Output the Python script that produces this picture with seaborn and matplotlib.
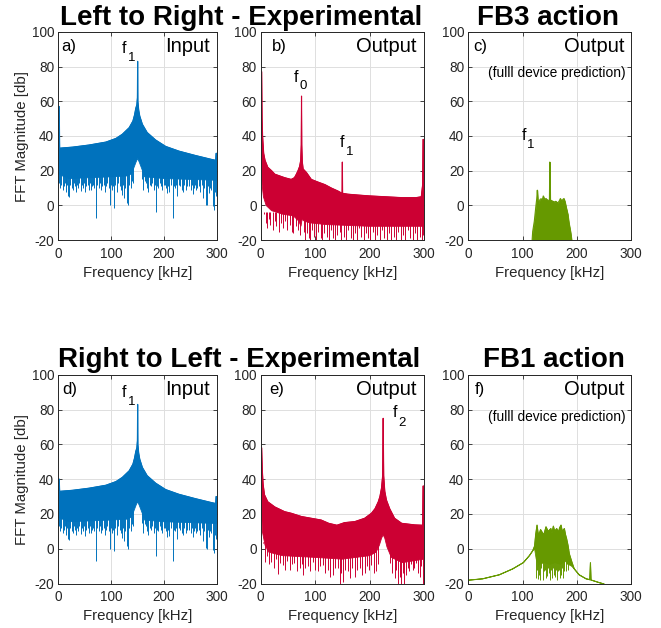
import matplotlib
matplotlib.use("Agg")
import matplotlib.pyplot as plt
import seaborn as sns

BLUE = "#0072BD"
RED = "#CC0033"
GREEN = "#669900"
INK = "#262626"

# ---------------- spectra (frequency in kHz, magnitude in dB) ----------------
# Input drive (panels a and d): upper edge of the dense FFT band
# (the first two entries carry the DC bin, set per panel below)
input_top_f = [0, 1.8, 2.6, 27, 58, 90, 109, 121, 134, 141, 144, 146.5, 148.5, 149.5, 150,
               150.5, 152, 154, 159, 168, 184, 203, 228, 259, 290, 297.5, 298.2, 300]
input_top_db = [33, 33, 33, 33.6, 34.8, 36.5, 38.6, 41, 44.8, 48.6, 52, 56, 58, 62, 83,
                60, 55, 51.5, 46.7, 42, 37.7, 34, 31.3, 28.8, 26.5, 26, 30, 30]
input_dc_lr = 57
input_dc_rl = 40
# lower edge of the band
input_low_f = [0, 20, 60, 100, 130, 137, 142, 147, 150, 153, 158, 163, 200, 250, 300]
input_low_db = [18, 15.5, 16, 16.5, 17, 18, 21, 25, 27, 25, 21, 16.5, 15.5, 15, 14.5]
# downward spikes below the band
input_dip_f = [2, 4, 6, 8, 10.5, 12, 14, 15.5, 17, 19, 21, 23, 25, 27, 29, 31, 33, 35, 37,
               39.5, 42, 44, 46, 48, 51, 53, 56, 58, 60, 62, 64, 66, 68, 71, 73, 76, 78, 81,
               83, 86, 88, 90, 92, 95, 97, 99, 101, 104, 106, 108, 111, 113, 116, 118, 121,
               123, 125, 127, 129, 132, 134, 137, 139, 141, 159, 161, 163, 166, 168, 170, 173,
               175, 177, 180, 182, 184, 187, 189, 192, 194, 196, 199, 201, 203, 205, 208, 210,
               213, 216, 218, 221, 223, 225, 228, 230, 233, 236, 238, 241, 244, 247, 250, 252,
               254, 256, 258, 261, 263, 266, 268, 271, 273, 276, 279, 281, 283, 285, 287, 289,
               292, 294, 296, 297.5]
input_dip_db = [13, 10, 12, 9, 11, 13, 8, 11, 12, 5.5, 5, 12, 10, 9, 13, 11, 8, 12, 10,
                13, 8.5, 12, 10, 13, 7.5, 11, 12, 9, 13, 9, 11, 12, 10, -7, 12, 10, 13, 9,
                11, 12, 8, 11, 13, 10, 0, 12, 9, 11, -1.5, 12, 8, 13, 11, 9, 6,
                12, 4.5, 10, 1.5, 0, 12, 10, 14, 13, 15, 9, 14, 13, 10, 8, 12,
                11, 13, 9, 12, -4, 11, 10, 13, 11, 9, 12, 12, 10, 7, 11, 7.5,
                12, -7, 11, 10, 12, 5.5, 12, 11, 9, 8, 12, 9, 11, 11, 9, 12,
                6.5, 10, 12, 9, 10, 11, 8, 12, 4.5, 10, 0.5, 0, 11, 7, 10, 9,
                -0.5, -2.5, 8, 5.5]

# Output, left to right (panel b)
out_lr_top_f = [0, 1.8, 2.6, 3.5, 5.5, 8, 13, 20, 26, 35, 44, 56, 62, 65.5, 68.5, 71.5, 73.5,
                74.5, 75, 75.5, 76.5, 78, 84, 93, 105, 118, 130, 142, 149.5, 150, 150.5, 160,
                179, 200, 230, 260, 285, 295, 297.5, 298.2, 300]
out_lr_top_db = [77, 77, 50, 40, 30, 26, 22, 20, 18, 17, 16, 15, 16, 18, 20, 22.5, 26,
                 35, 63, 35, 25, 21, 19, 15, 13.5, 12, 10, 8.3, 7, 25, 7, 6.5,
                 6, 5.5, 5, 4.5, 4.5, 5, 12, 38, 38]
out_lr_low_f = [0, 2.6, 5, 10, 20, 40, 60, 70, 74, 76, 80, 90, 120, 200, 300]
out_lr_low_db = [45, 12, 5, 0, -3, -5, -6, -9, -12, -8, -9, -10, -11, -12, -12]
out_lr_dip_f = [6, 9, 12, 15, 18, 22, 26, 29, 33, 37, 41, 45, 49, 53, 57, 60, 64, 68, 72, 79,
                82, 85, 88, 91, 95, 98, 102, 106, 110, 113, 117, 121, 125, 129, 133, 137, 141,
                145, 148, 153, 157, 161, 165, 169, 173, 177, 181, 185, 189, 193, 197, 201, 206,
                210, 214, 219, 223, 227, 232, 236, 240, 245, 249, 253, 258, 262, 266, 271, 275,
                279, 284, 288, 292, 296, 299]
out_lr_dip_db = [-5, -10, -13, -8, -11, -14, -9, -12, -15, -10, -13, -9, -14, -11, -15, -16,
                 -12, -14, -17, -15, -20, -16, -19, -20, -14, -18, -20, -15, -19, -20, -16,
                 -18, -20, -14, -19, -20, -17, -15, -20, -18, -20, -14, -19, -20, -16, -20,
                 -13, -18, -20, -16, -19, -20, -15, -20, -17, -20, -14, -19, -20, -16, -20,
                 -18, -20, -15, -20, -17, -20, -14, -19, -20, -16, -20, -18, -20, -17]

# Output, right to left (panel e)
out_rl_top_f = [0, 1.8, 3, 4.5, 7, 13, 26, 44, 56, 75, 93, 111, 125, 140, 154, 173, 191, 203.5,
                210, 216, 219, 222, 224, 225, 226, 228, 231, 237, 246, 259, 283, 297.5, 298.2, 300]
out_rl_top_db = [58, 58, 45, 37, 31, 27, 24, 21.3, 20.4, 18.5, 17.5, 16.5, 14.6, 13.5, 15,
                 15.6, 17.5, 20.4, 23, 27, 30, 35, 42, 75, 42, 33, 28, 23, 17.5, 14.6, 13.7,
                 13.5, 36, 36]
out_rl_low_f = [0, 3, 8, 15, 40, 100, 150, 200, 212, 218, 222, 225, 228, 232, 240, 260, 300]
out_rl_low_db = [40, 10, 2, -2, -4, -5, -6, -4, -2, 2, 6, 8, 6, 1, -5, -8, -6]
out_rl_dip_f = [5, 7, 11, 15, 19.5, 24, 28, 32, 36, 41, 45, 49, 53, 57, 62, 66, 71.6, 75, 78,
                82, 87, 91, 96, 100, 105, 109, 114.5, 119, 124, 128, 133, 137, 142, 145, 148,
                151, 155, 160, 164, 168, 172.6, 177, 182, 186, 191, 195, 199, 203, 208, 212,
                216, 238, 242, 246, 249, 252, 255, 258, 261, 264, 267, 270, 273, 277, 280, 282,
                286, 289, 292, 295, 298]
out_rl_dip_db = [3, -7.5, -4, -9, -7.5, -11, -6, -14.5, -8, -9.5, -12, -7, -12, -9, -8.5, -13,
                 -11, -9, -15, -11, -10, -13, -7.5, -12, -13, -10, -9.5, -14, -12, -16, -15,
                 -11, -11, -20, -14, -19, -12, -13, -17, -11, -16, -12, -11, -15, -14, -10,
                 -12, -9.5, -14, -13, -9, -8, -14, -17, -12, -20, -16, -20, -14, -20, -15,
                 -11, -13, -9, -12, -11, -8, -14, -16, -10, -20]

# FB3 action, full device prediction (panel c)
fb3_top_f = [117, 118.5, 121.5, 124.5, 126, 127, 128, 129.5, 132, 134, 136, 138, 140, 143, 146,
             149.3, 150, 150.7, 152, 155, 158.5, 161, 164.5, 167, 169.5, 172, 174, 176, 178,
             180, 183, 185, 188, 191]
fb3_top_db = [-22, -15, -9, 0, 4, 8.8, 3, 1, 3.5, 3.9, 3, 5.5, 3.5, 4, 3,
              3, 25, 3, 3, 2.5, 2, 2.4, 1.5, 2.4, 4, 2, 3.5, 4, 2,
              -1, -5, -9.8, -15, -22]

# FB1 action, full device prediction (panel f)
fb1_top_f = [0, 26.5, 57, 81.7, 101.3, 112.4, 118.5, 122, 124, 126.5, 128.5, 130.8, 133, 135.7,
             139, 143, 147, 152, 154, 156.6, 159, 162.7, 166, 168, 170.7, 173, 176.8, 179, 181,
             183.5, 186, 191, 195, 204, 216.8, 223.5, 224.8, 226, 229, 241, 250]
fb1_top_db = [-18.1, -17.3, -15, -11.6, -8, -4, -1.2, 1.5, 8, 13.6, 9, 8.7, 11, 9.6,
              8, 12.6, 10, 11.6, 9, 13, 10, 11.6, 9.5, 12, 13.6, 10, 11.6, 8, 5.7,
              2, -3, -8, -11.6, -15, -17.3, -17.8, -8, -18, -18.3, -19.5, -20.3]
fb1_low_f = [0, 26.5, 57, 81.7, 101.3, 112.4, 118.5, 122, 125, 130, 140, 150, 160, 170, 178,
             184, 190, 195, 204, 216.8, 229, 241, 250]
fb1_low_db = [-18.1, -17.3, -15, -11.6, -8, -4, -1.2, 0, -6, -9, -8, -9, -8, -9, -7,
              -9, -10, -11.6, -15, -17.3, -18.3, -19.5, -20.3]
fb1_dip_f = [124.5, 126.5, 127.5, 129, 131, 132.5, 134.5, 137, 139, 141, 143, 145, 147, 148.5,
             150.5, 152, 154, 156, 158, 160, 161.5, 163, 165, 166.5, 168.5, 170, 172, 173.5,
             175.5, 177, 179, 181, 183]
fb1_dip_db = [-17, -12, -17.5, -10, -15, -18, -11, -18, -13, -12, -17, -15.8, -11, -14,
              -18, -12, -17, -11, -15, -16, -12, -18, -13, -12, -17, -15, -11, -17,
              -13, -10, -13, -9, -12]

x_ticks = [0, 100, 200, 300]
y_ticks = [-20, 0, 20, 40, 60, 80, 100]

# ---------------- style ----------------
sns.set_theme(style="whitegrid")
plt.rcParams["font.family"] = ["Liberation Sans", "DejaVu Sans"]
plt.rcParams["axes.unicode_minus"] = False

W, H = 661, 628
fig = plt.figure(figsize=(W / 100, H / 100), dpi=100)


def add_axes(x0, x1, y0, y1):
    return fig.add_axes([x0 / W, 1 - y1 / H, (x1 - x0) / W, (y1 - y0) / H])


cols = [(58.3, 217.0), (260.7, 424.0), (468.3, 631.3)]
rows = [(31.8, 240.2), (374.8, 583.5)]
axes = [[add_axes(c[0], c[1], r[0], r[1]) for c in cols] for r in rows]


def style_axes(ax, ylabel):
    ax.set_xlim(0, 300)
    ax.set_ylim(-20, 100)
    ax.set_xticks(x_ticks)
    ax.set_yticks(y_ticks)
    ax.set_axisbelow(True)
    ax.grid(True, color="#dedede", lw=0.7)
    ax.set_facecolor("white")
    for s in ax.spines.values():
        s.set_color(INK)
        s.set_linewidth(0.7)
        s.set_visible(True)
        s.set_zorder(5)
    ax.tick_params(direction="in", length=3, width=0.6, color=INK, labelcolor=INK,
                   labelsize=9.8, top=True, right=True, bottom=True, left=True)
    ax.tick_params(axis="x", pad=5)
    ax.tick_params(axis="y", pad=3)
    ax.set_xlabel("Frequency [kHz]", fontsize=10.8, color=INK, va="center")
    ax.xaxis.set_label_coords(0.5, -0.157)
    if ylabel:
        ax.set_ylabel("FFT Magnitude [db]", fontsize=10.8, color=INK, va="center")
        ax.yaxis.set_label_coords(-0.231, 0.5)
    else:
        ax.set_ylabel("")


def draw_band(ax, top_f, top_db, low_f, low_db, color):
    px = list(top_f) + list(low_f)[::-1]
    py = list(top_db) + list(low_db)[::-1]
    ax.fill(px, py, color=color, lw=0.6, ec=color, zorder=2)
    sns.lineplot(x=top_f, y=top_db, ax=ax, color=color, lw=0.8, estimator=None,
                 sort=False, zorder=3)


def draw_dips(ax, f, db, anchor, color):
    ax.vlines(f, db, anchor, color=color, lw=0.7, zorder=2)


def sub_label(ax, base, sub, fx, fy, sx, sy):
    ax.text(fx, fy, base, fontsize=11.5, color="black", ha="left", va="baseline")
    ax.text(sx, sy, sub, fontsize=9.5, color="black", ha="left", va="baseline")


def corner_text(ax, tag, tag_x, right):
    ax.text(tag_x, 91.5, tag, fontsize=12, color="black", ha="left", va="center")
    ax.text(287, 91.5, right, fontsize=14.5, color="black", ha="right", va="center")


def note(ax):
    ax.text(290, 76, "(fulll device prediction)", fontsize=9.9, color="black",
            ha="right", va="center")


# a) input, left to right
ax = axes[0][0]
draw_band(ax, input_top_f, [input_dc_lr] * 2 + input_top_db[2:], input_low_f, input_low_db, BLUE)
draw_dips(ax, input_dip_f, input_dip_db, 22, BLUE)
style_axes(ax, True)
corner_text(ax, "a)", 6.5, "Input")
sub_label(ax, "f", "1", 119.6, 87.6, 131, 83.3)

# b) output, left to right
ax = axes[0][1]
draw_band(ax, out_lr_top_f, out_lr_top_db, out_lr_low_f, out_lr_low_db, RED)
draw_dips(ax, out_lr_dip_f, out_lr_dip_db, -4, RED)
style_axes(ax, False)
corner_text(ax, "b)", 20, "Output")
sub_label(ax, "f", "0", 61.2, 71.2, 71, 66.9)
sub_label(ax, "f", "1", 145.8, 33.8, 156.8, 29)

# c) FB3 action
ax = axes[0][2]
ax.fill_between(fb3_top_f, fb3_top_db, -25, color=GREEN, lw=0.6, ec=GREEN, zorder=2)
sns.lineplot(x=fb3_top_f, y=fb3_top_db, ax=ax, color=GREEN, lw=0.8, estimator=None,
             sort=False, zorder=3)
style_axes(ax, False)
corner_text(ax, "c)", 9, "Output")
note(ax)
sub_label(ax, "f", "1", 98.9, 37.6, 108.7, 32.9)

# d) input, right to left
ax = axes[1][0]
draw_band(ax, input_top_f, [input_dc_rl] * 2 + input_top_db[2:], input_low_f, input_low_db, BLUE)
draw_dips(ax, input_dip_f, input_dip_db, 22, BLUE)
style_axes(ax, True)
corner_text(ax, "d)", 8, "Input")
sub_label(ax, "f", "1", 119.6, 87.4, 131, 82.6)

# e) output, right to left
ax = axes[1][1]
draw_band(ax, out_rl_top_f, out_rl_top_db, out_rl_low_f, out_rl_low_db, RED)
draw_dips(ax, out_rl_dip_f, out_rl_dip_db, 4, RED)
style_axes(ax, False)
corner_text(ax, "e)", 16, "Output")
sub_label(ax, "f", "2", 242.6, 75.6, 253, 70.6)

# f) FB1 action
ax = axes[1][2]
draw_band(ax, fb1_top_f, fb1_top_db, fb1_low_f, fb1_low_db, GREEN)
draw_dips(ax, fb1_dip_f, fb1_dip_db, 0, GREEN)
style_axes(ax, False)
corner_text(ax, "f)", 12, "Output")
note(ax)

# row titles
title_kw = dict(ha="center", va="baseline", fontsize=20, fontweight="bold", color="black")
fig.text(241.5 / W, 1 - 25 / H, "Left to Right - Experimental", **title_kw)
fig.text(548.3 / W, 1 - 25 / H, "FB3 action", **title_kw)
fig.text(239.2 / W, 1 - 367.5 / H, "Right to Left - Experimental", **title_kw)
fig.text(554 / W, 1 - 366.7 / H, "FB1 action", **title_kw)

fig.savefig("out.png", dpi=100, facecolor="white")
